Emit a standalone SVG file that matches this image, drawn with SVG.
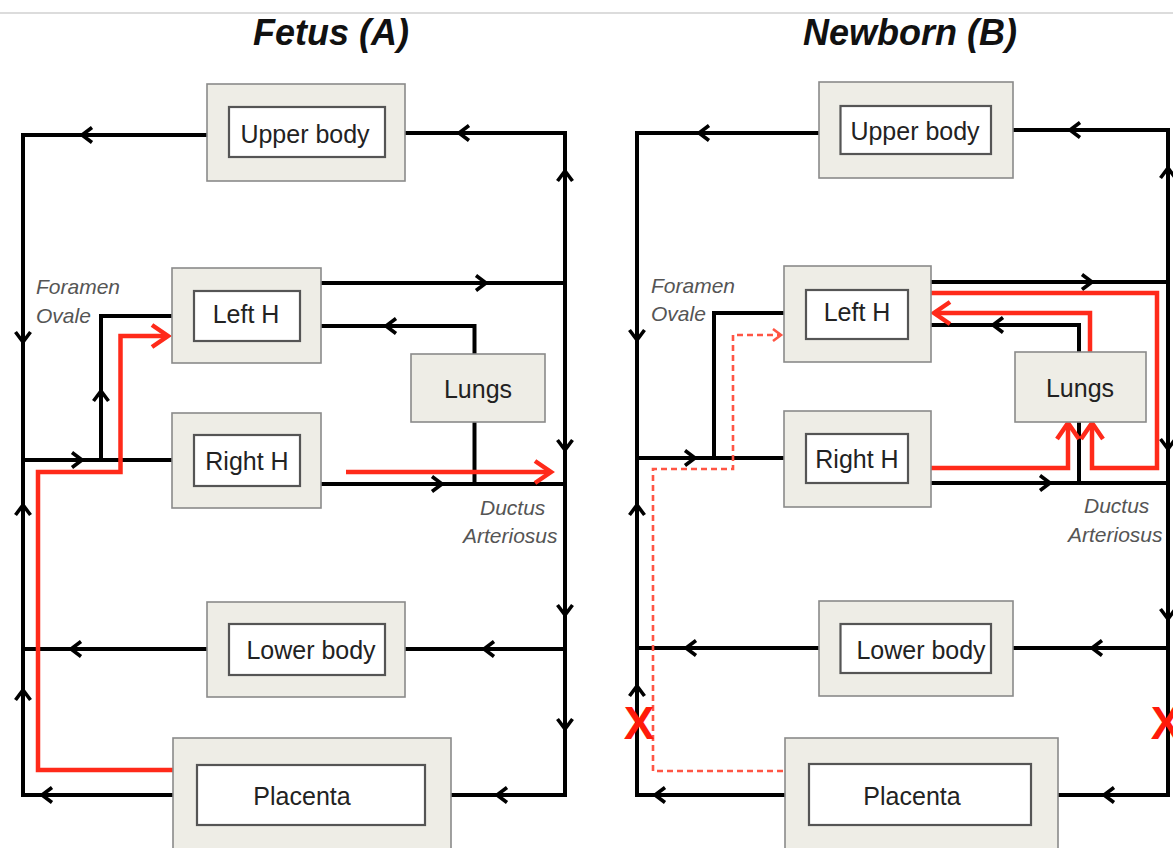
<svg xmlns="http://www.w3.org/2000/svg" xmlns:xlink="http://www.w3.org/1999/xlink" width="1173" height="848" viewBox="0 0 1173 848">
<style>
.outer{fill:#eeede6;stroke:#8a8a8a;stroke-width:1.6}
.inner{fill:#fff;stroke:#555;stroke-width:2.2}
.lbl{font-family:"Liberation Sans",Arial,sans-serif;font-size:25px;fill:#222;text-anchor:middle}
.note{font-family:"Liberation Sans",Arial,sans-serif;font-size:21px;font-style:italic;fill:#555}
.title{font-family:"Liberation Sans",Arial,sans-serif;font-size:36px;font-weight:bold;font-style:italic;fill:#111;text-anchor:middle}
.ln{fill:none;stroke:#000;stroke-width:4;stroke-linejoin:miter}
.red{fill:none;stroke:#ff2a1a;stroke-width:4.5}
.dash{fill:none;stroke:#ff5544;stroke-width:2.6;stroke-dasharray:6 4}
.x{font-family:"Liberation Sans",Arial,sans-serif;font-size:46px;font-weight:bold;fill:#ff1a0a;text-anchor:middle}
</style>
<defs>
<path id="ch" d="M10,-7.5 L0,0 L10,7.5" fill="none" stroke="#000" stroke-width="3.6"/>
<path id="rch" d="M16,-11 L0,0 L16,11" fill="none" stroke="#ff2a1a" stroke-width="4.5"/>
<path id="dch" d="M8,-6 L0,0 L8,6" fill="none" stroke="#ff5544" stroke-width="2.6"/>
</defs>
<rect width="1173" height="848" fill="#fff"/>
<line x1="0" y1="13" x2="1173" y2="13" stroke="#dcdcdc" stroke-width="2"/>

<text class="title" x="331" y="45">Fetus (A)</text>
<text class="title" x="910" y="45">Newborn (B)</text>

<g id="connectors">
<!-- Panel A black lines -->
<path class="ln" d="M207,135 H23 V795 H173"/>
<path class="ln" d="M405,133 H565 V795 H451"/>
<path class="ln" d="M321,283 H565"/>
<path class="ln" d="M321,326 H474.5 V354"/>
<path class="ln" d="M474.5,422 V484"/>
<path class="ln" d="M23,460 H172"/>
<path class="ln" d="M101,460 V316 H172"/>
<path class="ln" d="M321,484 H565"/>
<path class="ln" d="M207,649 H23"/>
<path class="ln" d="M565,649 H405"/>
<!-- Panel A arrowheads -->
<use xlink:href="#ch" transform="translate(82,135)"/>
<use xlink:href="#ch" transform="translate(459,133)"/>
<use xlink:href="#ch" transform="translate(486,283) rotate(180)"/>
<use xlink:href="#ch" transform="translate(386,326)"/>
<use xlink:href="#ch" transform="translate(82,460) rotate(180)"/>
<use xlink:href="#ch" transform="translate(101,391) rotate(90)"/>
<use xlink:href="#ch" transform="translate(442,484) rotate(180)"/>
<use xlink:href="#ch" transform="translate(71,649)"/>
<use xlink:href="#ch" transform="translate(484,649)"/>
<use xlink:href="#ch" transform="translate(42,795)"/>
<use xlink:href="#ch" transform="translate(497,795)"/>
<use xlink:href="#ch" transform="translate(23,342) rotate(-90)"/>
<use xlink:href="#ch" transform="translate(23,505) rotate(90)"/>
<use xlink:href="#ch" transform="translate(23,690) rotate(90)"/>
<use xlink:href="#ch" transform="translate(565,171) rotate(90)"/>
<use xlink:href="#ch" transform="translate(565,450) rotate(-90)"/>
<use xlink:href="#ch" transform="translate(565,615) rotate(-90)"/>
<use xlink:href="#ch" transform="translate(565,729) rotate(-90)"/>
<!-- Panel A red -->
<path class="red" d="M173,770 H38 V472 H120.5 V336 H166"/>
<use xlink:href="#rch" transform="translate(168,336) rotate(180)"/>
<path class="red" d="M346,472 H549"/>
<use xlink:href="#rch" transform="translate(551,472) rotate(180)"/>

<!-- Panel B black lines -->
<path class="ln" d="M819,133 H637 V795 H785"/>
<path class="ln" d="M1013,130 H1168 V795 H1057"/>
<path class="ln" d="M931,282 H1168"/>
<path class="ln" d="M931,325 H1079 V352"/>
<path class="ln" d="M1079,422 V483"/>
<path class="ln" d="M637,458 H784"/>
<path class="ln" d="M714,458 V313 H784"/>
<path class="ln" d="M931,483 H1168"/>
<path class="ln" d="M819,648 H637"/>
<path class="ln" d="M1168,648 H1013"/>
<!-- Panel B arrowheads -->
<use xlink:href="#ch" transform="translate(699,133)"/>
<use xlink:href="#ch" transform="translate(1070,130)"/>
<use xlink:href="#ch" transform="translate(1092,282) rotate(180)"/>
<use xlink:href="#ch" transform="translate(993,325)"/>
<use xlink:href="#ch" transform="translate(695,458) rotate(180)"/>
<use xlink:href="#ch" transform="translate(1050,483) rotate(180)"/>
<use xlink:href="#ch" transform="translate(686,648)"/>
<use xlink:href="#ch" transform="translate(1092,648)"/>
<use xlink:href="#ch" transform="translate(655,795)"/>
<use xlink:href="#ch" transform="translate(1104,795)"/>
<use xlink:href="#ch" transform="translate(637,340) rotate(-90)"/>
<use xlink:href="#ch" transform="translate(637,505) rotate(90)"/>
<use xlink:href="#ch" transform="translate(637,686) rotate(90)"/>
<use xlink:href="#ch" transform="translate(1168,168) rotate(90)"/>
<use xlink:href="#ch" transform="translate(1168,449) rotate(-90)"/>
<use xlink:href="#ch" transform="translate(1168,619) rotate(-90)"/>
<!-- Panel B red -->
<path class="red" d="M931,293 H1157 V468 H1092 V425"/>
<use xlink:href="#rch" transform="translate(1092,423) rotate(90)"/>
<path class="red" d="M931,468 H1068 V425"/>
<use xlink:href="#rch" transform="translate(1068,423) rotate(90)"/>
<path class="red" d="M1090,352 V313 H936"/>
<use xlink:href="#rch" transform="translate(934,313)"/>
<path class="dash" d="M783,771 H653 V469 H733 V335 H779"/>
<use xlink:href="#dch" transform="translate(781,335) rotate(180)"/>
<text class="x" x="639" y="739">X</text>
<text class="x" x="1166" y="739">X</text>
</g>

<!-- Panel A nodes -->
<g id="a-upper-body">
<rect class="outer" x="207" y="84" width="198" height="97"/>
<rect class="inner" x="229" y="107" width="156" height="50"/>
<text class="lbl" x="305" y="143">Upper body</text>
</g>
<g id="a-left-h">
<rect class="outer" x="172" y="268" width="149" height="95"/>
<rect class="inner" x="194" y="291" width="106" height="50"/>
<text class="lbl" x="246" y="323">Left H</text>
</g>
<g id="a-lungs">
<rect class="outer" x="411" y="354" width="134" height="68"/>
<text class="lbl" x="478" y="398">Lungs</text>
</g>
<g id="a-right-h">
<rect class="outer" x="172" y="413" width="149" height="95"/>
<rect class="inner" x="194" y="435" width="106" height="51"/>
<text class="lbl" x="247" y="470">Right H</text>
</g>
<g id="a-lower-body">
<rect class="outer" x="207" y="602" width="198" height="95"/>
<rect class="inner" x="229" y="624" width="156" height="51"/>
<text class="lbl" x="311" y="659">Lower body</text>
</g>
<g id="a-placenta">
<rect class="outer" x="173" y="738" width="278" height="115"/>
<rect class="inner" x="197" y="765" width="228" height="60"/>
<text class="lbl" x="302" y="805">Placenta</text>
</g>
<g id="a-labels">
<text class="note" x="36" y="294">Foramen</text>
<text class="note" x="36" y="323">Ovale</text>
<text class="note" x="480" y="515">Ductus</text>
<text class="note" x="463" y="543">Arteriosus</text>
</g>

<!-- Panel B nodes -->
<g id="b-upper-body">
<rect class="outer" x="819" y="82" width="194" height="96"/>
<rect class="inner" x="840.5" y="106" width="150.5" height="48"/>
<text class="lbl" x="915" y="140">Upper body</text>
</g>
<g id="b-left-h">
<rect class="outer" x="784" y="266" width="147" height="96"/>
<rect class="inner" x="806" y="290" width="102" height="49"/>
<text class="lbl" x="857" y="321">Left H</text>
</g>
<g id="b-lungs">
<rect class="outer" x="1015" y="352" width="131" height="70"/>
<text class="lbl" x="1080" y="397">Lungs</text>
</g>
<g id="b-right-h">
<rect class="outer" x="784" y="411" width="147" height="96"/>
<rect class="inner" x="806" y="434" width="102" height="49"/>
<text class="lbl" x="857" y="468">Right H</text>
</g>
<g id="b-lower-body">
<rect class="outer" x="819" y="601" width="194" height="95"/>
<rect class="inner" x="840.5" y="624" width="150.5" height="49"/>
<text class="lbl" x="921" y="659">Lower body</text>
</g>
<g id="b-placenta">
<rect class="outer" x="785" y="738" width="273" height="115"/>
<rect class="inner" x="809" y="764" width="222" height="61"/>
<text class="lbl" x="912" y="805">Placenta</text>
</g>
<g id="b-labels">
<text class="note" x="651" y="293">Foramen</text>
<text class="note" x="651" y="321">Ovale</text>
<text class="note" x="1084" y="513">Ductus</text>
<text class="note" x="1068" y="542">Arteriosus</text>
</g>
</svg>
